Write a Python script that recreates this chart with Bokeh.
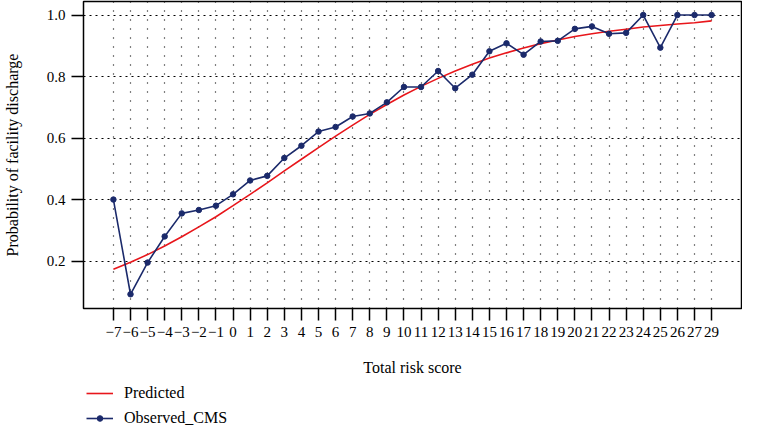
from bokeh.plotting import figure
from bokeh.layouts import column
from bokeh.models import FixedTicker, PrintfTickFormatter, Range1d, Legend, LegendItem
from bokeh.embed import file_html
from bokeh.resources import INLINE

# ---- data ----
scores = [-7, -6, -5, -4, -3, -2, -1, 0, 1, 2, 3, 4, 5, 6, 7, 8, 9, 10, 11, 12,
          13, 14, 15, 16, 17, 18, 19, 20, 21, 22, 23, 24, 25, 26, 27, 29]
observed = [0.400, 0.092, 0.195, 0.280, 0.355, 0.366, 0.380, 0.417, 0.462, 0.477,
            0.535, 0.575, 0.621, 0.636, 0.670, 0.680, 0.716, 0.766, 0.766, 0.818,
            0.762, 0.806, 0.882, 0.908, 0.871, 0.914, 0.916, 0.955, 0.963, 0.939,
            0.942, 1.000, 0.894, 1.000, 1.000, 1.000]
predicted = [0.173, 0.196, 0.221, 0.249, 0.279, 0.311, 0.344, 0.380, 0.417, 0.454,
             0.493, 0.531, 0.569, 0.606, 0.642, 0.677, 0.709, 0.740, 0.768, 0.794,
             0.818, 0.840, 0.860, 0.877, 0.893, 0.907, 0.919, 0.930, 0.939, 0.947,
             0.954, 0.961, 0.966, 0.971, 0.975, 0.981]
y_ticks = [0.2, 0.4, 0.6, 0.8, 1.0]
x_label = "Total risk score"
y_label = "Probability of facility discharge"
series_names = ["Predicted", "Observed_CMS"]

FONT = "Liberation Serif"
NAVY = "#1b2a6b"
RED = "#e8161b"

pos = list(range(len(scores)))
tick_labels = {i: (str(s) if s >= 0 else "\u2212" + str(-s)) for i, s in zip(pos, scores)}

p = figure(width=742, height=381, output_backend="svg", toolbar_location=None,
           x_range=Range1d(-1.75, len(scores) - 1 + 1.75),
           y_range=Range1d(0.0457, 1.044),
           min_border_left=74, min_border_right=1, min_border_top=1,
           min_border_bottom=73)

p.outline_line_color = "black"
p.outline_line_width = 1.5
p.background_fill_color = "white"
p.border_fill_color = "white"

# axes
p.xaxis.ticker = FixedTicker(ticks=pos)
p.xaxis.major_label_overrides = tick_labels
p.yaxis.ticker = FixedTicker(ticks=y_ticks)
p.yaxis.formatter = PrintfTickFormatter(format="%.1f")
for ax in (p.xaxis[0], p.yaxis[0]):
    ax.axis_line_color = None
    ax.major_tick_line_color = "black"
    ax.major_tick_line_width = 1.5
    ax.major_tick_out = 12
    ax.major_tick_in = 0
    ax.minor_tick_line_color = None
    ax.major_label_text_font = FONT
    ax.major_label_text_font_size = "15px"
    ax.major_label_text_color = "black"
    ax.axis_label_text_font = FONT
    ax.axis_label_text_font_size = "16px"
    ax.axis_label_text_font_style = "normal"
    ax.axis_label_text_color = "black"
p.xaxis.axis_label = x_label
p.yaxis.axis_label = y_label
p.xaxis.major_label_standoff = 6
p.xaxis.axis_label_standoff = 19
p.yaxis.major_label_standoff = 6
p.yaxis.axis_label_standoff = 23

# grid
p.xgrid.grid_line_color = "black"
p.xgrid.grid_line_dash = "1 8"
p.xgrid.grid_line_width = 1.2
p.ygrid.grid_line_color = "black"
p.ygrid.grid_line_dash = "2 4"
p.ygrid.grid_line_width = 1

# series
p.line(pos, predicted, line_color=RED, line_width=1.6)
p.line(pos, observed, line_color=NAVY, line_width=1.6)
p.scatter(pos, observed, size=5.5, marker="circle", fill_color=NAVY, line_color=NAVY)

# legend strip below the plot (keys only, no data)
nan = float("nan")
lf = figure(width=742, height=46, output_backend="svg", toolbar_location=None,
            x_range=Range1d(0, 1), y_range=Range1d(0, 1),
            x_axis_type=None, y_axis_type=None,
            min_border_left=69, min_border_right=0, min_border_top=0, min_border_bottom=0)
lf.outline_line_color = None
lf.xgrid.visible = False
lf.ygrid.visible = False
lf.background_fill_color = "white"
lf.border_fill_color = "white"
k_pred = lf.line(x=[nan], y=[nan], line_color=RED, line_width=1.6)
k_obs_l = lf.line(x=[nan], y=[nan], line_color=NAVY, line_width=1.6)
k_obs_m = lf.scatter(x=[nan], y=[nan], size=5.5, marker="circle",
                     fill_color=NAVY, line_color=NAVY)

legend = Legend(items=[LegendItem(label=series_names[0], renderers=[k_pred]),
                       LegendItem(label=series_names[1], renderers=[k_obs_l, k_obs_m])],
                location="top_left", orientation="vertical",
                border_line_color=None, background_fill_alpha=0,
                padding=0, margin=3, spacing=7,
                glyph_width=27, glyph_height=14, label_height=14,
                label_standoff=11,
                label_text_font=FONT, label_text_font_size="16px",
                label_text_color="black")
lf.add_layout(legend, "center")

layout = column(p, lf, spacing=0)
open("out.html", "w").write(file_html(layout, INLINE))
